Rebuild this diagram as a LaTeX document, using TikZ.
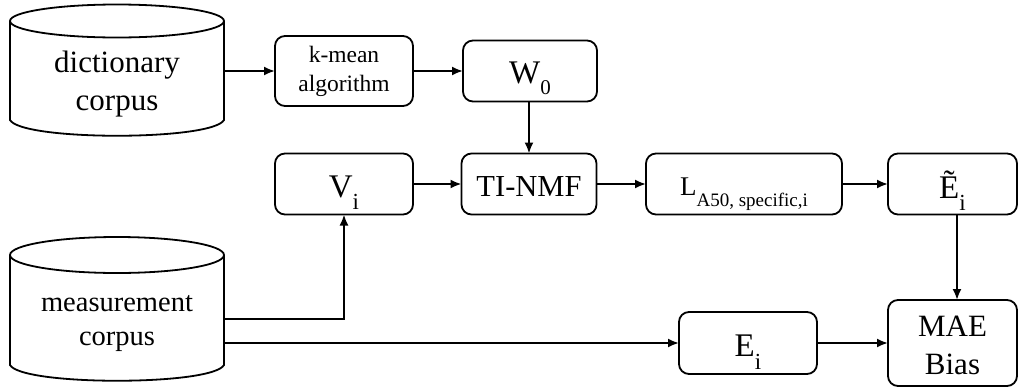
\documentclass[tikz,border=0pt]{standalone}
\usepackage{fontspec}
\setmainfont{Liberation Serif}
\usetikzlibrary{arrows.meta,calc}
\newcommand{\fs}[2]{\fontsize{#1}{#2}\selectfont}
\newcommand{\subi}[3]{\raisebox{-#1pt}{\fs{#2}{#2}#3}}
\newcommand{\bl}[2]{\smash{\raisebox{-#1pt}{#2}}}
\tikzset{
  box/.style={draw=black,line width=1.8pt,rounded corners=10pt,inner sep=0pt,outer sep=0pt,align=center},
  corpus/.style={draw=none,inner sep=0pt,outer sep=0pt},
  lab/.style={inner sep=0pt,align=center},
  conn/.style={line width=2pt,-{Latex[length=11pt,width=9pt]}},
  cyl/.style={line width=1.8pt}
}
\newcommand{\cylinder}[3]{%
  \draw[cyl] (#1.west |- 0,#2) arc[start angle=180,end angle=360,x radius=107,y radius=-#3]
    arc[start angle=0,end angle=180,x radius=107,y radius=-#3]
    -- ($(#1.south west)+(0,-17)$) .. controls ($(#1.south west)+(12,4)$) and ($(#1.south east)+(-12,4)$) .. ($(#1.south east)+(0,-17)$)
    -- (#1.east |- 0,#2);}
\begin{document}
\begin{tikzpicture}[x=1pt,y=-1pt]
\useasboundingbox (0,0) rectangle (1018,389);
\node[corpus,minimum width=214,minimum height=133] (dict) at (117,70.5) {};
\cylinder{dict}{21}{16.5}
\node[lab,font=\fs{31}{38}] (dictt) at (117,84) {dictionary\\corpus};
\node[corpus,minimum width=214,minimum height=145] (meas) at (117,309.5) {};
\cylinder{meas}{255}{18}
\node[lab,font=\fs{28.5}{34}] (meast) at (117,324) {measurement\\corpus};
\node[box,minimum width=138,minimum height=70,font=\fs{23.5}{29}] (k) at (344,71) {k-mean\\algorithm};
\node[box,minimum width=134,minimum height=61,font=\fs{33}{33}] (w) at (530,71) {\bl{12}{W\subi{11}{21}{0}}};
\node[box,minimum width=138,minimum height=61,font=\fs{33}{33}] (v) at (344,184) {\bl{13}{V\subi{12}{23}{i}}};
\node[box,minimum width=135,minimum height=61,font=\fs{30.5}{33}] (ti) at (529,184) {\bl{12}{TI-NMF}};
\node[box,minimum width=196,minimum height=61,font=\fs{27}{27}] (l) at (744,184) {\bl{11}{L\subi{11}{19}{A50, specific,i}}};
\node[box,minimum width=129,minimum height=61,font=\fs{33}{33}] (et) at (952.5,184) {\bl{14}{Ẽ\subi{12}{23}{i}}};
\node[box,minimum width=138,minimum height=62,font=\fs{33}{33}] (e) at (748,343) {\bl{13.5}{E\subi{13}{23}{i}}};
\node[box,minimum width=129,minimum height=86,font=\fs{31}{38}] (mae) at (952.5,343) {MAE\rule{0pt}{25.5pt}\\Bias};
\coordinate (mv) at (344,319);
\draw[conn] (dict.east |- k.west) -- (k.west);
\draw[conn] (k.east) -- (k.east -| w.west);
\draw[conn] (w.south -| ti.north) -- (ti.north);
\draw[conn] (v.east) -- (ti.west);
\draw[conn] (ti.east) -- (l.west);
\draw[conn] (l.east) -- (et.west);
\draw[conn] ($(et.south)+(4.5,0)$) -- ($(mae.north)+(4.5,0)$);
\draw[conn] (meas.east |- mv) -- (mv) -- (v.south);
\draw[conn] (meas.east |- e.west) -- (e.west);
\draw[conn] (e.east) -- (mae.west |- e.east);
\end{tikzpicture}
\end{document}
